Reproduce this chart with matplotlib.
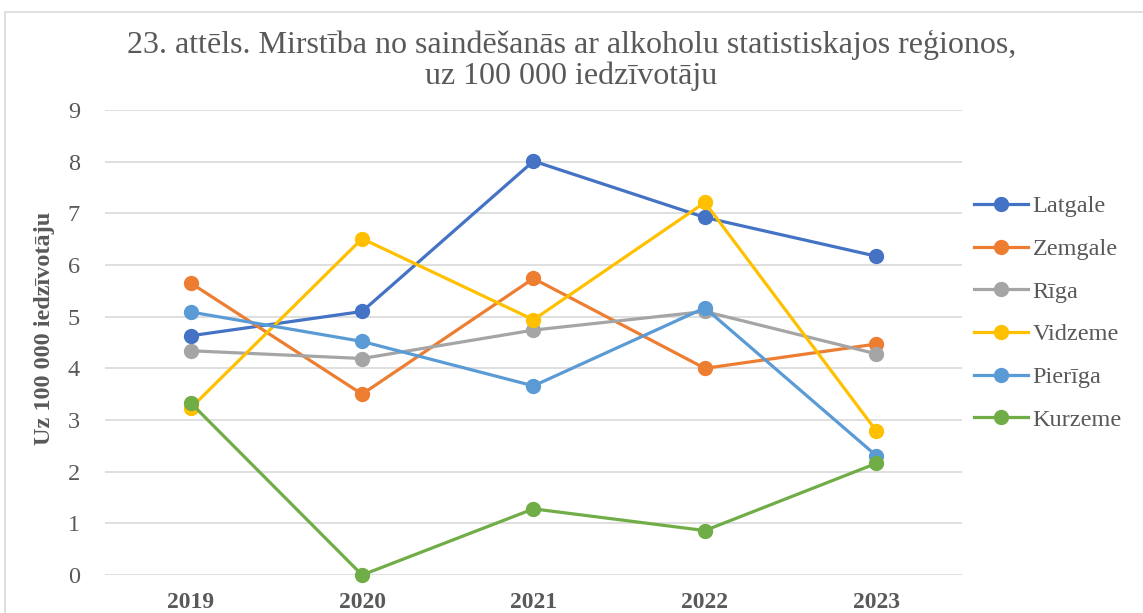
import matplotlib.pyplot as plt
from matplotlib.patches import Rectangle

plt.rcParams['font.family'] = ['Liberation Serif', 'DejaVu Serif']

years = ['2019', '2020', '2021', '2022', '2023']

latgale = [4.63, 5.10, 8.01, 6.92, 6.17]
zemgale = [5.65, 3.50, 5.74, 4.00, 4.47]
riga = [4.34, 4.19, 4.74, 5.10, 4.28]
vidzeme = [3.23, 6.51, 4.94, 7.21, 2.79]
pieriga = [5.09, 4.52, 3.66, 5.17, 2.31]
kurzeme = [3.33, 0.00, 1.28, 0.86, 2.16]

series = [
    ('Latgale', latgale, '#4472C4'),
    ('Zemgale', zemgale, '#ED7D31'),
    ('Rīga', riga, '#A5A5A5'),
    ('Vidzeme', vidzeme, '#FFC000'),
    ('Pierīga', pieriga, '#5B9BD5'),
    ('Kurzeme', kurzeme, '#70AD47'),
]

text_color = '#595959'

fig = plt.figure(figsize=(11.43, 6.13), dpi=100)
ax = fig.add_axes([0.0919, 0.062, 0.7497, 0.7586])

# chart frame like the Excel chart area
fig.patches.append(Rectangle((5 / 1143, -0.1), 1.2, 1 - 12 / 613 + 0.1,
                             transform=fig.transFigure, fill=False,
                             edgecolor='#D9D9D9', linewidth=1.2))

x = list(range(len(years)))
for i, (name, vals, col) in enumerate(series):
    ax.plot(x, vals, '-o', color=col, linewidth=2.3, markersize=10,
            label=name, zorder=3 + i, clip_on=False)

ax.set_xlim(-0.5, 4.5)
ax.set_ylim(0, 9)
ax.set_yticks(range(0, 10))
ax.set_xticks(x)
ax.set_xticklabels(years, fontsize=17, fontweight='bold', color=text_color)
ax.tick_params(axis='y', labelsize=17.5, labelcolor=text_color, length=0, pad=18)
ax.tick_params(axis='x', length=0, pad=12)
ax.grid(axis='y', color='#D9D9D9', linewidth=1.2)
ax.set_axisbelow(True)
for s in ax.spines.values():
    s.set_visible(False)

ax.set_ylabel('Uz 100 000 iedzīvotāju', fontsize=17.5, fontweight='bold',
              color=text_color)
ax.yaxis.set_label_coords(-0.058, 0.531)

fig.text(0.5, 1 - 45 / 613, '23. attēls. Mirstība no saindēšanās ar alkoholu statistiskajos reģionos,',
         ha='center', va='center', fontsize=23, color=text_color)
fig.text(0.5, 1 - 76 / 613, 'uz 100 000 iedzīvotāju',
         ha='center', va='center', fontsize=23, color=text_color)

leg = fig.legend(loc='upper left', bbox_to_anchor=(0.844, 0.697), frameon=False,
                 fontsize=17.5, labelspacing=0.85, handlelength=2.2,
                 handletextpad=0.2, borderaxespad=0)
for t in leg.get_texts():
    t.set_color(text_color)

fig.savefig('out.png', dpi=100)
